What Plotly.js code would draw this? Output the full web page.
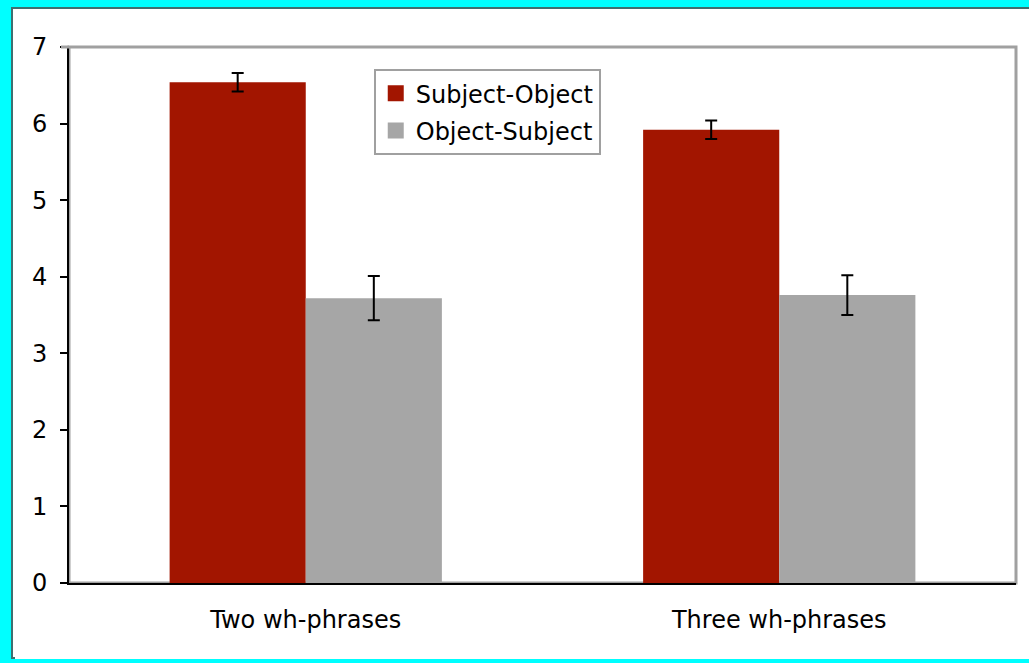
<!DOCTYPE html>
<html>
<head>
<meta charset="utf-8">
<script src="https://cdn.plot.ly/plotly-3.0.1.min.js"></script>
<style>
  html, body { margin: 0; padding: 0; background: #ffffff; overflow: hidden; }
  .cy { position: fixed; background: #00ffff; }
  #cl { left: 0; top: 0; width: 11px; height: 700px; }
  #ct { left: 0; top: 0; width: 1200px; height: 7px; }
  #cb { left: 0; top: 659px; width: 1200px; height: 40px; }
  #frame { position: fixed; left: 11px; top: 7px; width: 1200px; height: 652px;
           border-left: 2px solid #3f6f6f; border-top: 2px solid #3f6f6f; border-bottom: 2px solid #3f6f6f;
           box-sizing: border-box; background: #ffffff; }
  #chart { position: absolute; left: 2px; top: 0px; }
</style>
</head>
<body>
<div class="cy" id="cl"></div><div class="cy" id="ct"></div><div class="cy" id="cb"></div>
<div id="frame"><div id="chart"></div></div>
<script>
const categories = ["Two wh-phrases", "Three wh-phrases"];
const seriesNames = ["Subject-Object", "Object-Subject"];
const subjObj = [6.54, 5.92];
const subjObjErr = [0.12, 0.12];
const objSubj = [3.72, 3.76];
const objSubjErr = [0.29, 0.26];
const yTicks = [0, 1, 2, 3, 4, 5, 6, 7];

const red = "#a21500";
const gray = "#a6a6a6";
const font = "DejaVu Sans, Verdana, sans-serif";

const traces = [
  {
    type: "bar", x: categories, y: subjObj, name: seriesNames[0], showlegend: false,
    marker: { color: red },
    error_y: { type: "data", array: subjObjErr, visible: true, color: "#000", thickness: 2, width: 6 }
  },
  {
    type: "bar", x: categories, y: objSubj, name: seriesNames[1], showlegend: false,
    marker: { color: gray },
    error_y: { type: "data", array: objSubjErr, visible: true, color: "#000", thickness: 2, width: 6 }
  },
  {
    type: "scatter", mode: "markers", x: [categories[0]], y: [null], name: seriesNames[0],
    legendgroup: "a", marker: { symbol: "square", color: red, size: 20 }, hoverinfo: "skip"
  },
  {
    type: "scatter", mode: "markers", x: [categories[0]], y: [null], name: seriesNames[1],
    legendgroup: "b", marker: { symbol: "square", color: gray, size: 20 }, hoverinfo: "skip"
  }
];

const layout = {
  width: 1016, height: 650,
  margin: { l: 54, r: 15, t: 38, b: 76 },
  paper_bgcolor: "#ffffff", plot_bgcolor: "#ffffff",
  font: { family: font, size: 24, color: "#000" },
  barmode: "group", bargap: 0.425, bargroupgap: 0,
  showlegend: true,
  legend: {
    x: 0.3218, y: 0.9586, xanchor: "left", yanchor: "top",
    bgcolor: "#ffffff", bordercolor: "#a0a0a0", borderwidth: 2,
    font: { family: font, size: 24, color: "#000" },
    tracegroupgap: 3, itemwidth: 30
  },
  xaxis: {
    type: "category", showline: true, linecolor: "#000", linewidth: 2,
    ticks: "", showgrid: false, zeroline: false, ticklabelstandoff: 14,
    tickfont: { family: font, size: 24, color: "#000" }
  },
  yaxis: {
    range: [0, 7], tickvals: yTicks, showline: true, linecolor: "#000", linewidth: 2,
    ticks: "outside", ticklen: 7, tickcolor: "#000", tickwidth: 2,
    showgrid: false, zeroline: false, ticklabelstandoff: 8,
    tickfont: { family: font, size: 24, color: "#000" }
  },
  shapes: [
    { type: "rect", xref: "paper", yref: "paper", x0: 0, x1: 1, y0: 0, y1: 1,
      line: { color: "#a0a0a0", width: 3 }, layer: "below" },
    { type: "line", xref: "paper", yref: "paper", xsizemode: "pixel", xanchor: 0,
      x0: -8, x1: 0, y0: 1, y1: 1, line: { color: "#a0a0a0", width: 3 }, layer: "above" }
  ]
};

Plotly.newPlot("chart", traces, layout, { displayModeBar: false, staticPlot: true });
</script>
</body>
</html>
